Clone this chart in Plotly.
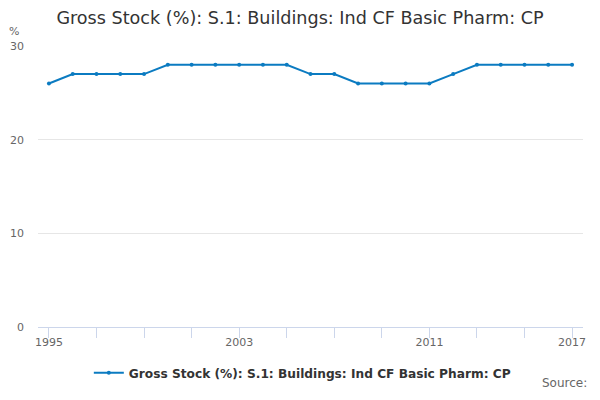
import plotly.graph_objects as go

# data
years = list(range(1995, 2018))
values = [26, 27, 27, 27, 27, 28, 28, 28, 28, 28, 28, 27, 27,
          26, 26, 26, 26, 27, 28, 28, 28, 28, 28]
label_years = [1995, 2003, 2011, 2017]
y_ticks = [0, 10, 20, 30]

SERIES = 'Gross Stock (%): S.1: Buildings: Ind CF Basic Pharm: CP'
LINE = '#0b7bc1'

fig = go.Figure()
fig.add_trace(go.Scatter(
    x=years, y=values, mode='lines+markers', name=SERIES,
    line=dict(color=LINE, width=2),
    marker=dict(color=LINE, size=4),
))

# page has an 8px body margin, so the figure is a bit smaller than the window
fig.update_layout(
    width=584, height=384,
    margin=dict(l=30, r=9, t=38, b=65),
    paper_bgcolor='white', plot_bgcolor='white',
    font=dict(family='DejaVu Sans', color='#666666', size=11),
    title=dict(text=SERIES, x=0.5, xanchor='center', y=0.974, yanchor='middle',
               font=dict(size=17.6, color='#333333')),
    showlegend=True,
    legend=dict(orientation='h', x=0.485, xanchor='center', yref='container', y=0.05,
                yanchor='middle', font=dict(size=12.2, color='#333333', weight='bold')),
    xaxis=dict(
        range=[1994.54, 2017.46], tickvals=label_years, ticktext=[str(y) for y in label_years],
        ticks='outside', ticklen=10, tickcolor='#ccd6eb', tickwidth=1, ticklabelstandoff=-5,
        showline=True, linecolor='#ccd6eb', showgrid=False, zeroline=False, automargin=False,
        minor=dict(tick0=1995, dtick=2, ticks='outside', ticklen=10, tickcolor='#ccd6eb', showgrid=False),
        tickfont=dict(size=11, color='#666666'),
    ),
    yaxis=dict(
        range=[0, 30], tickvals=y_ticks, showgrid=True, gridcolor='#e6e6e6',
        zeroline=False, showline=False, ticks='', ticklabelstandoff=13, automargin=False,
        tickfont=dict(size=11, color='#666666'),
    ),
)

fig.add_annotation(text='%', xref='paper', yref='paper', x=-0.044, y=1.05,
                   xanchor='center', yanchor='middle', showarrow=False,
                   font=dict(size=11, color='#666666'))
# kept just inside the bottom edge
fig.add_annotation(text='Source:', xref='paper', yref='paper', x=1.011, y=-0.2,
                   xanchor='right', yanchor='middle', showarrow=False,
                   font=dict(size=12, color='#666666'))

fig.write_html('out.html')
